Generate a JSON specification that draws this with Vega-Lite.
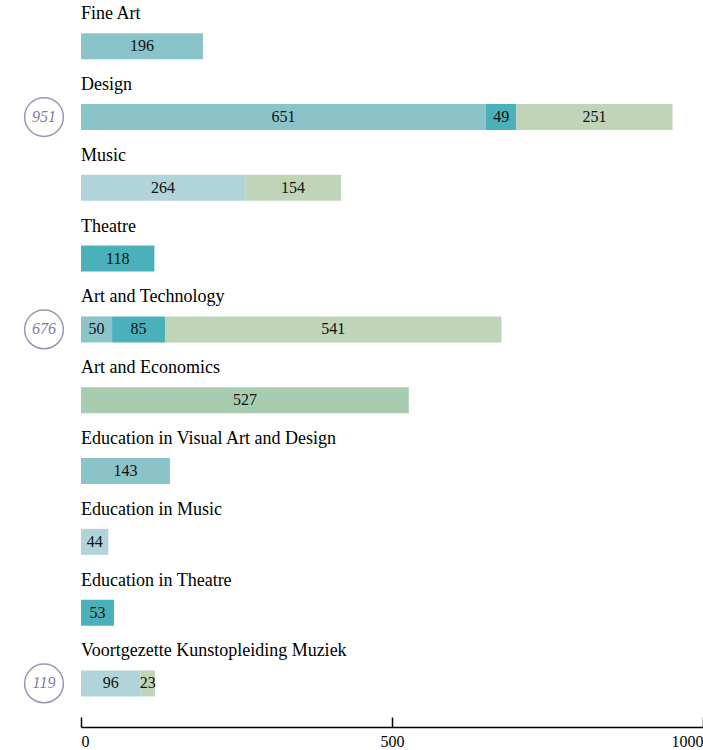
{
  "$schema": "https://vega.github.io/schema/vega-lite/v6.json",
  "autosize": {"type": "none"},
  "padding": {"left": 81, "top": 0, "right": 0, "bottom": 23},
  "width": 622,
  "height": 727,
  "background": "white",
  "config": {
    "view": {"stroke": null},
    "font": "Liberation Serif",
    "text": {"font": "Liberation Serif"}
  },
  "datasets": {
    "bars": [
      {"programme": "Fine Art", "group": "Visual Art", "value": 196},
      {"programme": "Design", "group": "Visual Art", "value": 651},
      {"programme": "Design", "group": "Theatre", "value": 49},
      {"programme": "Design", "group": "Technology", "value": 251},
      {"programme": "Music", "group": "Music", "value": 264},
      {"programme": "Music", "group": "Technology", "value": 154},
      {"programme": "Theatre", "group": "Theatre", "value": 118},
      {"programme": "Art and Technology", "group": "Visual Art", "value": 50},
      {"programme": "Art and Technology", "group": "Theatre", "value": 85},
      {"programme": "Art and Technology", "group": "Technology", "value": 541},
      {"programme": "Art and Economics", "group": "Economics", "value": 527},
      {"programme": "Education in Visual Art and Design", "group": "Visual Art", "value": 143},
      {"programme": "Education in Music", "group": "Music", "value": 44},
      {"programme": "Education in Theatre", "group": "Theatre", "value": 53},
      {"programme": "Voortgezette Kunstopleiding Muziek", "group": "Music", "value": 96},
      {"programme": "Voortgezette Kunstopleiding Muziek", "group": "Technology", "value": 23}
    ],
    "labels": [
      {"programme": "Fine Art"},
      {"programme": "Design"},
      {"programme": "Music"},
      {"programme": "Theatre"},
      {"programme": "Art and Technology"},
      {"programme": "Art and Economics"},
      {"programme": "Education in Visual Art and Design"},
      {"programme": "Education in Music"},
      {"programme": "Education in Theatre"},
      {"programme": "Voortgezette Kunstopleiding Muziek"}
    ],
    "notes": [
      {"programme": "Design", "total": "951"},
      {"programme": "Art and Technology", "total": "676"},
      {"programme": "Voortgezette Kunstopleiding Muziek", "total": "119"}
    ]
  },
  "resolve": {"scale": {"y": "shared", "x": "shared"}},
  "layer": [
    {
      "data": {"name": "bars"},
      "transform": [
        {"stack": "value", "groupby": ["programme"], "as": ["v0", "v1"], "sort": [{"field": "order"}]}
      ],
      "mark": {"type": "bar", "height": 26},
      "encoding": {
        "y": {
          "field": "programme", "type": "nominal", "sort": null,
          "scale": {"type": "band", "paddingInner": 0, "paddingOuter": 0.134, "align": 0.57,
            "domain": ["Fine Art", "Design", "Music", "Theatre", "Art and Technology", "Art and Economics", "Education in Visual Art and Design", "Education in Music", "Education in Theatre", "Voortgezette Kunstopleiding Muziek"]},
          "axis": null
        },
        "x": {
          "field": "v0", "type": "quantitative",
          "scale": {"domain": [0, 1000], "nice": false, "zero": true},
          "axis": {
            "values": [0, 500, 1000], "format": "d", "title": null, "grid": false,
            "domainColor": "#000000", "domainWidth": 1.5,
            "tickColor": "#000000", "tickSize": -10, "tickWidth": 1.5,
            "labelPadding": 16, "labelFont": "Liberation Serif", "labelFontSize": 16,
            "labelColor": "#000000", "labelFlush": true, "labelOverlap": false
          }
        },
        "x2": {"field": "v1"},
        "color": {
          "field": "group", "type": "nominal", "legend": null,
          "scale": {
            "domain": ["Visual Art", "Music", "Theatre", "Technology", "Economics"],
            "range": ["#8AC4C8", "#B0D4DA", "#4AB0BA", "#C0D4B8", "#A8CCB0"]
          }
        }
      }
    },
    {
      "data": {"name": "bars"},
      "transform": [
        {"stack": "value", "groupby": ["programme"], "as": ["v0", "v1"], "sort": [{"field": "order"}]},
        {"calculate": "(datum.v0 + datum.v1) / 2", "as": "mid"}
      ],
      "mark": {"type": "text", "fontSize": 16, "color": "#111111", "baseline": "middle", "align": "center"},
      "encoding": {
        "y": {"field": "programme", "type": "nominal", "sort": null},
        "x": {"field": "mid", "type": "quantitative"},
        "text": {"field": "value", "type": "quantitative"}
      }
    },
    {
      "data": {"name": "labels"},
      "mark": {"type": "text", "fontSize": 18, "color": "#000000", "baseline": "middle", "align": "left", "dy": -32},
      "encoding": {
        "y": {"field": "programme", "type": "nominal", "sort": null},
        "x": {"datum": 0, "type": "quantitative"},
        "text": {"field": "programme"}
      }
    },
    {
      "data": {"name": "notes"},
      "mark": {"type": "point", "shape": "circle", "size": 1500, "filled": false, "stroke": "#8C8CB0", "strokeWidth": 1.5, "xOffset": -37, "opacity": 0.9},
      "encoding": {
        "y": {"field": "programme", "type": "nominal", "sort": null},
        "x": {"datum": 0, "type": "quantitative"}
      }
    },
    {
      "data": {"name": "notes"},
      "mark": {"type": "text", "fontSize": 16, "fontStyle": "italic", "color": "#7C7CA4", "baseline": "middle", "align": "center", "dx": -37},
      "encoding": {
        "y": {"field": "programme", "type": "nominal", "sort": null},
        "x": {"datum": 0, "type": "quantitative"},
        "text": {"field": "total"}
      }
    }
  ]
}
